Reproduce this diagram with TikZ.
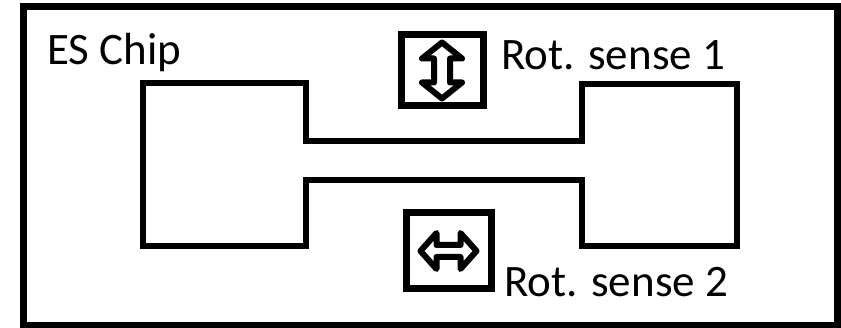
\documentclass[tikz,border=0pt]{standalone}
\usepackage{fontspec}
\setmainfont{Carlito}
\usetikzlibrary{positioning}

\begin{document}
\begin{tikzpicture}[x=1pt, y=-1pt,
    outline/.style={line width=7pt},
    symbox/.style={draw, line width=7pt, inner sep=0pt},
    label text/.style={inner sep=0pt, anchor=base west, font=\fontsize{45}{50}\selectfont}]
      \useasboundingbox (0,0) rectangle (841,328);
      \draw[outline] (23.5,6.5) rectangle (837,325.5);

      \node[label text] (chiplabel) at (47,65) {ES Chip};

      % chip outline
      \draw[outline, line width=6.5pt] (143,83) -- (306,83) -- (306,141) -- (582,141) -- (582,84) -- (737,84)
        -- (737,246) -- (582,246) -- (582,180) -- (306,180) -- (306,246) -- (143,246) -- cycle;

      \node[symbox, minimum width=82pt, minimum height=71pt] (sense1box) at (442,70.5) {};
      \node[symbox, minimum width=85pt, minimum height=76pt] (sense2box) at (448.5,251) {};

      \node[label text] (sense1) at (501,70) {Rot. sense 1};
      \node[label text] (sense2) at (504,297) {Rot. sense 2};

      % double arrows
      \draw[line width=6pt, line join=round, shift={(sense1box.center)}]
        (0,-28) -- (20,-12) -- (8,-12) -- (8,12) -- (20,12) -- (0,28)
        -- (-20,12) -- (-8,12) -- (-8,-12) -- (-20,-12) -- cycle;
      \draw[line width=6pt, line join=round, shift={(sense2box.center)}]
        (-28,0) -- (-12,-18) -- (-12,-6) -- (12,-6) -- (12,-18) -- (28,0)
        -- (12,18) -- (12,6) -- (-12,6) -- (-12,18) -- cycle;
    \end{tikzpicture}
\end{document}
